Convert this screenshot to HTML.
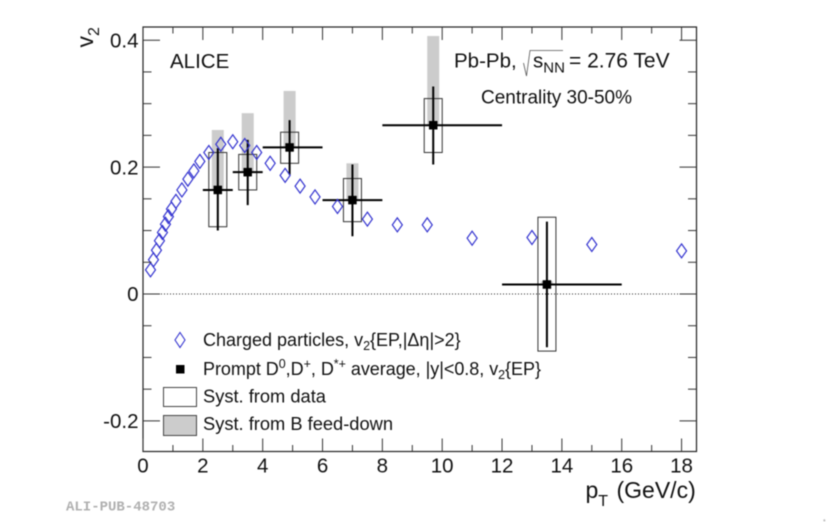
<!DOCTYPE html>
<html>
<head>
<meta charset="utf-8">
<title>ALICE D meson v2</title>
<style>
html,body{margin:0;padding:0;background:#fff;width:830px;height:522px;overflow:hidden}
svg{display:block;filter:blur(0.4px)}
text{font-family:"Liberation Sans",sans-serif;fill:#111}
</style>
</head>
<body>
<svg id="chart" width="830" height="522" viewBox="0 0 830 522" xmlns="http://www.w3.org/2000/svg">
  <g id="feed"></g>
  <g id="zero"></g>
  <g id="boxes"></g>
  <g id="errs"></g>
  <g id="diam"></g>
  <g id="dmark"></g>
  <g id="axes"></g>

  <text transform="translate(93,47.5) rotate(-90)" font-size="23">v<tspan font-size="16" dy="6">2</tspan></text>
  <text x="585.5" y="498" font-size="23">p<tspan font-size="16" dy="8">T</tspan><tspan dy="-8" x="616.5">(GeV/c)</tspan></text>

  <text x="170" y="68" font-size="20.5">ALICE</text>
  <text x="454" y="67.5" font-size="20.5">Pb-Pb,<tspan x="533">s</tspan><tspan font-size="15" dy="5">NN</tspan><tspan dy="-5" x="569" font-size="21">= 2.76 TeV</tspan></text>
  <path d="M523.5,63 L526.5,76 L530,50.5 L563,50.5" fill="none" stroke="#555" stroke-width="0.8"/>
  <text x="481" y="103.5" font-size="19">Centrality 30-50%</text>

  <g>
    <path d="M180,332.5 L185,340 L180,347.5 L175,340 Z" fill="none" stroke="#3535d0" stroke-width="1.1"/>
    <text x="203" y="346" font-size="18">Charged particles, v<tspan font-size="12.5" dy="4">2</tspan><tspan dy="-4">{EP,|Δη|&gt;2}</tspan></text>
    <rect x="176" y="365" width="8.5" height="8.5" fill="#000"/>
    <text x="203" y="375" font-size="18" textLength="338" lengthAdjust="spacing">Prompt D<tspan font-size="12.5" dy="-7">0</tspan><tspan dy="7">,D</tspan><tspan font-size="12.5" dy="-7">+</tspan><tspan dy="7">, D</tspan><tspan font-size="12.5" dy="-7">*+</tspan><tspan dy="7"> average, |y|&lt;0.8, v</tspan><tspan font-size="12.5" dy="4">2</tspan><tspan dy="-4">{EP}</tspan></text>
    <rect x="163.5" y="387.5" width="33" height="19" fill="#fff" stroke="#444" stroke-width="1"/>
    <text x="203" y="402.5" font-size="18.3">Syst. from data</text>
    <rect x="163.5" y="415.5" width="33" height="20" fill="#ccc" stroke="#444" stroke-width="1"/>
    <text x="203" y="430" font-size="18.3">Syst. from B feed-down</text>
  </g>

  <text x="66" y="510.5" font-size="14" font-weight="bold" style="font-family:'Liberation Mono',monospace;fill:#b0b0b0">ALI-PUB-48703</text>
  <text x="823" y="524" font-size="7" style="fill:#999">*</text>
</svg>
<script>
var chargedPt = [0.25,0.35,0.45,0.55,0.65,0.75,0.85,0.95,1.1,1.3,1.5,1.7,1.9,2.2,2.6,3.0,3.4,3.8,4.25,4.75,5.25,5.75,6.5,7.5,8.5,9.5,11,13,15,18];
var chargedV2 = [0.038,0.054,0.069,0.084,0.097,0.110,0.122,0.134,0.146,0.164,0.181,0.194,0.209,0.223,0.236,0.240,0.234,0.223,0.206,0.187,0.170,0.153,0.138,0.118,0.109,0.109,0.088,0.089,0.078,0.068];

var dPt      = [2.5,3.5,4.9,7,9.7,13.5];
var dV2      = [0.164,0.192,0.231,0.148,0.266,0.015];
var dPtLow   = [2,3,4,6,8,12];
var dPtHigh  = [3,4,6,8,12,16];
var dErrHigh = [0.230,0.243,0.274,0.204,0.327,0.114];
var dErrLow  = [0.100,0.140,0.188,0.091,0.204,-0.084];
var systHigh = [0.223,0.220,0.255,0.182,0.308,0.121];
var systLow  = [0.106,0.164,0.206,0.114,0.223,-0.090];
var feedHigh = [0.2585,0.285,0.320,0.206,0.4066,0.020];

var xMajorTicks = [0,2,4,6,8,10,12,14,16,18];
var xMinorTicks = [1,3,5,7,9,11,13,15,17];
var yMajorTicks = [-0.2,0,0.2,0.4];
var yMinorTicks = [-0.15,-0.1,-0.05,0.05,0.1,0.15,0.25,0.3,0.35];
var xTickLabels = ["0","2","4","6","8","10","12","14","16","18"];
var yTickLabels = ["-0.2","0","0.2","0.4"];

var NS = "http://www.w3.org/2000/svg";
var L = 143, R = 696.5, T = 27, B = 451.5;
function X(v){ return 143 + 29.92 * v; }
function Y(v){ return 294 - 634.5 * v; }
function mk(tag, parentId, props){
  var el = document.createElementNS(NS, tag);
  for (var k in props) el.setAttribute(k, props[k]);
  document.getElementById(parentId).appendChild(el);
  return el;
}
var i, el;

// feed-down bands
for (i = 0; i < dPt.length; i++) {
  el = mk("rect", "feed", {x: X(dPt[i]) - 6, y: Y(feedHigh[i]), width: 12, height: Y(dV2[i]) - Y(feedHigh[i]), fill: "#cccccc"});
  
  
}

// zero line
el = mk("line", "zero", {x1: L, x2: R, y1: Y(0), y2: Y(0), stroke: "#222", "stroke-width": 1, "stroke-dasharray": "1 2"});



// data systematics boxes
for (i = 0; i < dPt.length; i++) {
  el = mk("rect", "boxes", {x: X(dPt[i]) - 9, y: Y(systHigh[i]), width: 18, height: Y(systLow[i]) - Y(systHigh[i]), fill: "none", stroke: "#333", "stroke-width": 1});
  
  
}

// error bars
for (i = 0; i < dPt.length; i++) {
  el = mk("line", "errs", {x1: X(dPt[i]), x2: X(dPt[i]), y1: Y(dErrHigh[i]), y2: Y(dErrLow[i]), stroke: "#000", "stroke-width": 2});
  
  
  el = mk("line", "errs", {x1: X(dPtLow[i]), x2: X(dPtHigh[i]), y1: Y(dV2[i]), y2: Y(dV2[i]), stroke: "#000", "stroke-width": 2});
  
  
}

// charged particle diamonds
for (i = 0; i < chargedPt.length; i++) {
  var cx = X(chargedPt[i]), cy = Y(chargedV2[i]);
  el = mk("path", "diam", {d: "M" + cx + "," + (cy - 7) + " L" + (cx + 5) + "," + cy + " L" + cx + "," + (cy + 7) + " L" + (cx - 5) + "," + cy + " Z", fill: "none", stroke: "#3535d0", "stroke-width": 1.2});
  
  
}

// D meson markers
for (i = 0; i < dPt.length; i++) {
  el = mk("rect", "dmark", {x: X(dPt[i]) - 4.25, y: Y(dV2[i]) - 4.25, width: 8.5, height: 8.5, fill: "#000"});
  
  
}

// frame
el = mk("rect", "axes", {x: L, y: T, width: R - L, height: B - T, fill: "none", stroke: "#222", "stroke-width": 1.2});



// x ticks
function xTick(v, len){
  var e = mk("line", "axes", {x1: X(v), x2: X(v), y1: B, y2: B - len, stroke: "#333", "stroke-width": 1});
  
  
  e = mk("line", "axes", {x1: X(v), x2: X(v), y1: T, y2: T + len, stroke: "#333", "stroke-width": 1});
  
  
}
function yTick(v, len){
  var e = mk("line", "axes", {x1: L, x2: L + len, y1: Y(v), y2: Y(v), stroke: "#333", "stroke-width": 1});
  
  
  e = mk("line", "axes", {x1: R, x2: R - len, y1: Y(v), y2: Y(v), stroke: "#333", "stroke-width": 1});
  
  
}
xMajorTicks.forEach(function(v){ xTick(v, 13); });
xMinorTicks.forEach(function(v){ xTick(v, 6.5); });
yMajorTicks.forEach(function(v){ yTick(v, 17); });
yMinorTicks.forEach(function(v){ yTick(v, 8.5); });

// tick labels
for (i = 0; i < xMajorTicks.length; i++) {
  el = mk("text", "axes", {x: X(xMajorTicks[i]), y: 472.5, "font-size": 20.5, "text-anchor": "middle"});
  el.textContent = xTickLabels[i];
  
  
}
for (i = 0; i < yMajorTicks.length; i++) {
  el = mk("text", "axes", {x: 138.5, y: Y(yMajorTicks[i]) + 7.2, "font-size": 20.5, "text-anchor": "end"});
  el.textContent = yTickLabels[i];
  
  
}
</script>
</body>
</html>
